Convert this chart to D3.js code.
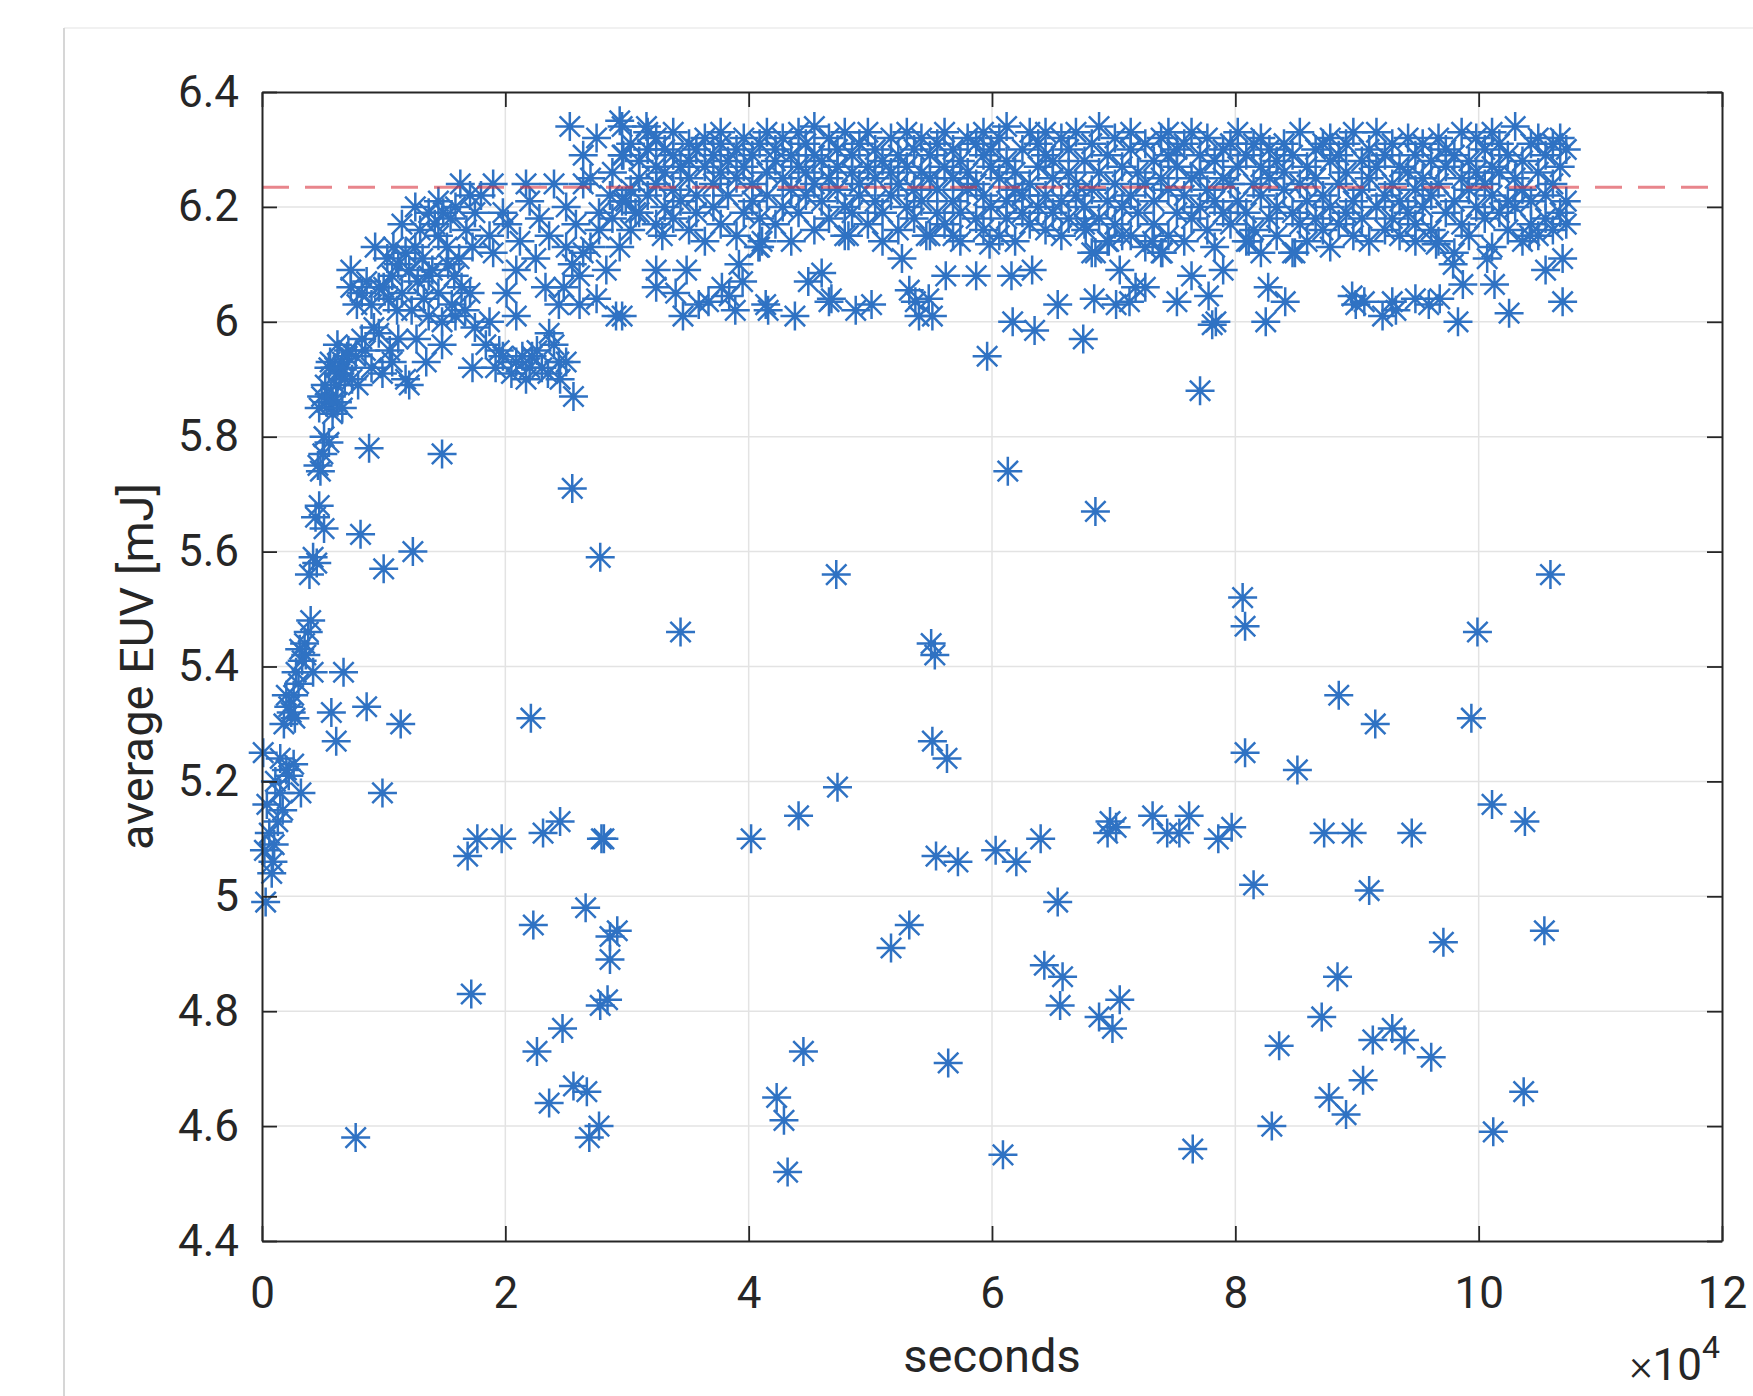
<!DOCTYPE html>
<html>
<head>
<meta charset="utf-8">
<title>average EUV</title>
<script src="https://cdn.jsdelivr.net/npm/d3@7"></script>
<style>
  body { margin: 0; background: #fff; }
</style>
</head>
<body>
<script>
// axis ticks (x in units of 1e4 s)
var xTicks = [0, 2, 4, 6, 8, 10, 12];
var xTickLabels = ["0", "2", "4", "6", "8", "10", "12"];
var yTicks = [4.4, 4.6, 4.8, 5, 5.2, 5.4, 5.6, 5.8, 6, 6.2, 6.4];
var yTickLabels = ["4.4", "4.6", "4.8", "5", "5.2", "5.4", "5.6", "5.8", "6", "6.2", "6.4"];
var refLevel = 6.234;

// start-up rise
var early = [[0.03,4.99],[0.08,5.04],[0.09,5.06],[0.02,5.08],[0.06,5.11],[0.13,5.13],[0.04,5.16],[0.15,5.18],
  [0.11,5.20],[0.20,5.22],[0.01,5.25],[0.15,5.24],[0.26,5.23],[0.32,5.18],[0.18,5.30],[0.22,5.33],[0.26,5.35],
  [0.20,5.35],[0.24,5.32],[0.28,5.39],[0.33,5.41],[0.35,5.44],[0.31,5.43],[0.38,5.46],[0.40,5.48],[0.42,5.39],
  [0.39,5.56],[0.42,5.59],[0.44,5.66],[0.47,5.68],[0.51,5.64],[0.48,5.74],[0.50,5.77],[0.51,5.80],[0.53,5.86],
  [0.57,5.87],[0.61,5.89],[0.56,5.93],[0.64,5.91],[0.70,5.94],[0.68,5.90],[0.10,5.09],[0.17,5.15],[0.22,5.21],
  [0.27,5.31],[0.30,5.37],[0.36,5.42],[0.45,5.58],[0.46,5.75],[0.55,5.79],[0.58,5.84],[0.62,5.86],[0.66,5.93],[0.60,5.92]];

// settling, 0.5 .. 3 (x1e4 s)
var ramp = [[1.63,6.24],[1.26,6.20],[1.37,6.19],[1.49,6.19],[1.59,6.20],[1.71,6.22],[1.42,6.17],[1.45,6.15],
  [0.93,6.13],[1.08,6.13],[1.26,6.13],[1.73,6.13],[1.12,6.10],[1.32,6.11],[1.53,6.10],[0.73,6.09],[0.73,6.06],
  [0.82,6.05],[0.96,6.06],[1.07,6.08],[1.21,6.09],[1.37,6.08],[1.64,6.06],[1.71,6.05],[1.56,6.03],[0.90,6.03],
  [1.04,6.04],[1.23,6.02],[1.37,6.01],[1.48,6.00],[1.59,6.01],[1.75,5.99],[1.48,5.96],[1.73,5.92],[0.96,5.98],
  [1.12,5.97],[0.82,5.97],[0.71,5.95],[0.55,5.92],[0.66,5.92],[0.77,5.94],[0.90,5.92],[1.07,5.93],[1.18,5.90],
  [1.21,5.89],[0.49,5.87],[0.58,5.86],[0.66,5.85],[0.47,5.85],[0.79,5.89],[0.99,5.91],
  [1.00,6.06],[1.03,6.11],[1.15,6.05],[1.18,6.12],[1.28,6.07],[1.33,6.04],[1.40,6.09],[1.45,6.05],[1.52,6.13],
  [1.58,6.08],[1.62,6.11],[1.67,6.02],[1.11,6.02],[0.86,6.07],[0.78,6.03],[0.92,5.99],[1.05,5.95],[1.27,5.97],
  [1.35,5.93],[0.62,5.96],[0.74,5.90],[0.52,5.89],[0.85,5.95],[1.15,6.17],[1.30,6.16],[1.45,6.21],[1.55,6.18],
  [1.68,6.16],[1.75,6.19],[1.80,6.22],
  [2.53,6.34],[2.94,6.35],[3.16,6.34],[2.64,6.29],[2.75,6.32],[2.97,6.29],[1.90,6.24],[2.17,6.24],[2.40,6.24],
  [2.64,6.24],[2.70,6.25],[1.98,6.19],[2.20,6.21],[2.50,6.20],[2.77,6.19],[2.99,6.21],[1.87,6.15],[2.12,6.14],
  [2.36,6.15],[2.50,6.13],[2.64,6.12],[2.77,6.16],[2.94,6.13],[3.07,6.19],[3.29,6.15],[1.90,6.12],[2.09,6.09],
  [2.33,6.06],[2.48,6.06],[2.61,6.08],[2.83,6.09],[2.01,6.05],[2.09,6.01],[2.44,6.03],[2.61,6.03],[2.75,6.04],
  [1.87,6.00],[1.84,5.96],[1.98,5.94],[2.09,5.93],[2.22,5.94],[2.30,5.92],[2.36,5.98],[2.44,5.93],[2.17,5.90],
  [1.92,5.92],[1.95,5.95],[2.05,5.91],[2.14,5.94],[2.26,5.95],[2.35,5.91],[2.40,5.96],[2.50,5.93],[2.45,5.90],
  [2.20,5.92],[2.02,6.17],[2.28,6.18],[2.58,6.17],[2.86,6.22],[2.25,6.11],[2.55,6.10],[2.70,6.13]];

// steady band: [x, [y values]]
var bandCols = [
  [2.88,[6.18,6.26]],[2.96,[6.21,6.29,6.34]],[3.03,[6.16,6.23,6.31]],[3.10,[6.19,6.25,6.28]],
  [3.17,[6.22,6.30,6.33]],[3.24,[6.17,6.24,6.27,6.32]],[3.31,[6.20,6.26,6.30]],[3.38,[6.18,6.23,6.29,6.33]],
  [3.44,[6.21,6.27]],[3.51,[6.16,6.25,6.31,6.28]],[3.57,[6.19,6.22,6.30]],[3.64,[6.14,6.27,6.32]],
  [3.71,[6.20,6.24,6.29]],[3.77,[6.17,6.26,6.33,6.31]],[3.83,[6.22,6.28]],[3.90,[6.15,6.25,6.30]],
  [3.96,[6.19,6.27,6.32]],[4.03,[6.21,6.24,6.29]],[4.09,[6.13,6.18,6.31]],[4.15,[6.22,6.26,6.33]],
  [4.22,[6.17,6.28,6.30]],[4.28,[6.20,6.25,6.32]],[4.35,[6.14,6.23,6.29]],[4.41,[6.19,6.27,6.33]],
  [4.47,[6.22,6.26,6.31]],[4.54,[6.16,6.24,6.29,6.34]],[4.60,[6.21,6.28]],[4.66,[6.18,6.25,6.32]],
  [4.73,[6.23,6.27,6.30]],[4.79,[6.15,6.20,6.33]],[4.85,[6.19,6.26,6.29]],[4.91,[6.22,6.24,6.31]],
  [4.98,[6.17,6.27,6.33]],[5.04,[6.21,6.25,6.30]],[5.10,[6.14,6.19,6.28]],[5.17,[6.22,6.26,6.32]],
  [5.23,[6.16,6.24,6.29]],[5.30,[6.20,6.27,6.33]],[5.36,[6.18,6.23,6.30]],[5.42,[6.21,6.26,6.32]],
  [5.49,[6.15,6.25,6.29]],[5.55,[6.19,6.23,6.31]],[5.61,[6.17,6.27,6.33]],[5.68,[6.21,6.25,6.30]],
  [5.74,[6.14,6.19,6.28]],[5.80,[6.23,6.26,6.32]],[5.87,[6.18,6.24,6.31]],[5.93,[6.16,6.22,6.29,6.33]],
  [5.99,[6.20,6.27,6.30]],[6.06,[6.15,6.25,6.32]],[6.12,[6.18,6.21,6.28,6.34]],[6.19,[6.14,6.23,6.26]],
  [6.25,[6.19,6.22,6.30]],[6.31,[6.17,6.24,6.33]],[6.38,[6.20,6.27,6.31]],[6.44,[6.16,6.22,6.29,6.33]],
  [6.50,[6.19,6.25,6.28]],[6.57,[6.15,6.21,6.32]],[6.63,[6.18,6.26,6.30]],[6.69,[6.22,6.24,6.33]],
  [6.76,[6.17,6.20,6.28]],[6.82,[6.12,6.23,6.31]],[6.88,[6.18,6.26,6.34]],[6.95,[6.14,6.21,6.29]],
  [7.01,[6.17,6.24,6.32]],[7.07,[6.20,6.27]],[7.14,[6.15,6.22,6.30,6.33]],[7.20,[6.19,6.26]],
  [7.26,[6.13,6.24,6.31]],[7.33,[6.17,6.21,6.28]],[7.39,[6.12,6.25,6.32]],[7.45,[6.15,6.23,6.29,6.33]],
  [7.52,[6.19,6.27,6.30]],[7.58,[6.14,6.22,6.31]],[7.64,[6.18,6.25,6.33]],[7.71,[6.20,6.26,6.29]],
  [7.77,[6.16,6.23,6.32]],[7.83,[6.13,6.21,6.28]],[7.90,[6.19,6.25,6.30]],[7.96,[6.17,6.24,6.31]],
  [8.02,[6.21,6.27,6.33]],[8.09,[6.14,6.19,6.29]],[8.15,[6.16,6.24,6.31]],[8.21,[6.12,6.22,6.27,6.32]],
  [8.28,[6.18,6.25,6.30]],[8.34,[6.15,6.20,6.28]],[8.40,[6.23,6.26,6.31]],[8.47,[6.12,6.19,6.29]],
  [8.53,[6.17,6.24,6.33]],[8.59,[6.14,6.21,6.27]],[8.66,[6.18,6.25,6.30]],[8.72,[6.16,6.22,6.31]],
  [8.78,[6.13,6.20,6.28,6.32]],[8.85,[6.17,6.24,6.29]],[8.91,[6.19,6.26,6.31]],[8.97,[6.15,6.21,6.33]],
  [9.04,[6.18,6.23,6.28]],[9.10,[6.14,6.25,6.30]],[9.16,[6.20,6.27,6.33]],[9.23,[6.16,6.22,6.29]],
  [9.29,[6.18,6.24,6.31]],[9.35,[6.15,6.21,6.27]],[9.42,[6.19,6.26,6.32]],[9.48,[6.17,6.23,6.29]],
  [9.54,[6.20,6.25,6.31]],[9.61,[6.16,6.22,6.28]],[9.67,[6.14,6.24,6.32]],[9.73,[6.19,6.27,6.30]],
  [9.80,[6.12,6.21,6.29]],[9.86,[6.17,6.25,6.33]],[9.92,[6.15,6.23,6.28]],[9.98,[6.20,6.26,6.32]],
  [10.05,[6.18,6.24,6.30]],[10.11,[6.13,6.22,6.27,6.33]],[10.17,[6.19,6.26,6.31]],[10.24,[6.16,6.21,6.29]],
  [10.30,[6.20,6.25,6.34]],[10.36,[6.14,6.23,6.28]],[10.43,[6.17,6.21,6.31]],[10.49,[6.15,6.26,6.32]],
  [10.55,[6.18,6.22,6.29]],[10.61,[6.16,6.24,6.31]],[10.67,[6.19,6.27,6.32]],[10.72,[6.17,6.21,6.30]]];

// sparse points just under the band
var lowBand = [[2.91,6.01],[2.96,6.01],[3.24,6.09],[3.49,6.09],[3.24,6.06],[3.40,6.05],[3.46,6.01],[3.59,6.03],
  [3.92,6.10],[3.95,6.07],[3.78,6.06],[3.67,6.035],[3.84,6.045],[3.89,6.02],[4.14,6.03],[4.16,6.02],[4.38,6.01],
  [4.49,6.07],[4.60,6.085],[4.66,6.035],[4.68,6.04],[4.88,6.02],[5.01,6.03],[5.26,6.11],[5.32,6.055],[5.37,6.035],
  [5.40,6.01],[4.11,6.14],[4.08,6.13],[4.82,6.15],
  [5.62,6.08],[5.87,6.08],[6.16,6.08],[6.33,6.09],[5.48,6.04],[5.51,6.01],[6.17,6.00],[6.35,5.985],[6.54,6.03],
  [6.75,5.97],[6.84,6.04],[7.02,6.03],[7.13,6.035],[7.18,6.06],[7.05,6.09],[6.85,6.12],[6.96,6.14],[5.98,6.135],
  [5.68,6.15],[5.46,6.15],[6.77,6.16],[7.07,6.15],
  [7.64,6.08],[7.90,6.09],[7.26,6.06],[7.52,6.035],[7.78,6.045],[7.84,6.00],[7.81,5.995],[8.27,6.06],[8.41,6.035],
  [8.25,6.00],[8.96,6.045],[8.99,6.03],[8.11,6.14],[8.49,6.12],[7.40,6.12],[7.32,6.14],
  [9.06,6.035],[9.21,6.01],[9.29,6.035],[9.32,6.02],[9.48,6.04],[9.59,6.03],[9.68,6.04],[9.83,6.00],[9.79,6.10],
  [9.87,6.065],[10.07,6.11],[10.13,6.065],[10.25,6.015],[9.48,6.14],[9.65,6.135],[10.55,6.09],[10.69,6.11],
  [10.69,6.035],[10.42,6.15]];

// drop-outs
var outliers = [[0.57,5.32],[0.61,5.27],[0.67,5.39],[0.81,5.63],[0.88,5.78],[0.86,5.33],[0.99,5.18],[1.00,5.57],
  [1.14,5.30],[1.24,5.60],[1.48,5.77],[0.77,4.58],[1.72,4.83],[1.69,5.07],[1.77,5.10],[1.97,5.10],[2.21,5.31],
  [2.23,4.95],[2.31,5.11],[2.45,5.13],[2.26,4.73],[2.36,4.64],[2.47,4.77],[2.56,4.67],[2.67,4.66],[2.66,4.98],
  [2.69,4.58],[2.77,4.60],[2.79,5.10],[2.81,5.10],[2.78,4.81],[2.84,4.82],[2.86,4.89],[2.86,4.93],[2.92,4.94],
  [2.55,5.71],[2.56,5.87],[2.78,5.59],[3.44,5.46],[4.02,5.10],[4.41,5.14],[4.45,4.73],[4.23,4.65],[4.29,4.61],
  [4.32,4.52],[4.73,5.19],[4.72,5.56],[5.17,4.91],[5.32,4.95],[5.50,5.44],[5.53,5.42],[5.51,5.27],[5.63,5.24],
  [5.54,5.07],[5.72,5.06],[5.64,4.71],[5.96,5.94],[6.03,5.08],[6.20,5.06],[6.09,4.55],[6.13,5.74],[6.40,5.10],
  [6.43,4.88],[6.54,4.99],[6.58,4.86],[6.56,4.81],[6.85,5.67],[6.88,4.79],[6.99,4.77],[7.05,4.82],[6.95,5.11],
  [6.97,5.13],[7.02,5.12],[7.32,5.14],[7.44,5.11],[7.54,5.11],[7.62,5.14],[7.65,4.56],[7.71,5.88],[7.86,5.10],
  [7.97,5.12],[8.06,5.52],[8.08,5.47],[8.08,5.25],[8.15,5.02],[8.30,4.60],[8.36,4.74],[8.51,5.22],[8.71,4.79],
  [8.73,5.11],[8.77,4.65],[8.84,4.86],[8.85,5.35],[8.91,4.62],[8.96,5.11],[9.05,4.68],[9.10,5.01],[9.13,4.75],
  [9.15,5.30],[9.29,4.77],[9.39,4.75],[9.45,5.11],[9.61,4.72],[9.71,4.92],[9.94,5.31],[9.99,5.46],[10.11,5.16],
  [10.12,4.59],[10.37,4.66],[10.38,5.13],[10.54,4.94],[10.59,5.56]];

var W = 1753, H = 1396;
var plotL = 262, plotR = 1722, plotT = 92, plotB = 1241;

var pts = early.concat(ramp);
bandCols.forEach(function(c) { c[1].forEach(function(v) { pts.push([c[0], v]); }); });
pts = pts.concat(lowBand, outliers);

var x = d3.scaleLinear().domain([0, 12]).range([plotL, plotR]);
var y = d3.scaleLinear().domain([4.4, 6.4]).range([plotB, plotT]);

var svg = d3.select("body").append("svg")
  .attr("width", W).attr("height", H)
  .style("font-family", "Roboto, 'Liberation Sans', sans-serif");

// figure panel edge
svg.append("line").attr("x1", 64).attr("x2", W).attr("y1", 28).attr("y2", 28)
  .attr("stroke", "#ececec").attr("stroke-width", 1.5);
svg.append("line").attr("x1", 64).attr("x2", 64).attr("y1", 28).attr("y2", H)
  .attr("stroke", "#d6d6d6").attr("stroke-width", 2);

// grid
var grid = svg.append("g").attr("stroke", "#e3e3e3").attr("stroke-width", 1.5);
grid.selectAll(".gx").data(xTicks.slice(1, -1)).enter().append("line")
  .attr("x1", d => x(d)).attr("x2", d => x(d)).attr("y1", plotT).attr("y2", plotB);
grid.selectAll(".gy").data(yTicks.slice(1, -1)).enter().append("line")
  .attr("x1", plotL).attr("x2", plotR).attr("y1", d => y(d)).attr("y2", d => y(d));

// markers (MATLAB-style '*')
var star = "M0,-14.5V14.5M-14.5,0H14.5M-10.2,-10.2L10.2,10.2M-10.2,10.2L10.2,-10.2";
svg.append("g").selectAll("path").data(pts).enter().append("path")
  .attr("d", star)
  .attr("transform", d => "translate(" + x(d[0]) + "," + y(d[1]) + ")")
  .attr("fill", "none").attr("stroke", "#2f72c3").attr("stroke-width", 2.5);

// reference level
svg.append("line")
  .attr("x1", plotL).attr("x2", plotR).attr("y1", y(refLevel)).attr("y2", y(refLevel))
  .attr("stroke", "#d9333f").attr("stroke-opacity", 0.6).attr("stroke-width", 3)
  .attr("stroke-dasharray", "27,16");

function styleAxis(g, fs) {
  g.attr("font-size", fs).attr("font-family", "Roboto, 'Liberation Sans', sans-serif").attr("color", "#262626");
  g.select(".domain").attr("stroke-width", 2);
  g.selectAll(".tick line").attr("stroke-width", 1.8);
}

svg.append("g").attr("transform", "translate(0," + plotB + ")")
  .call(d3.axisBottom(x).tickValues(xTicks).tickFormat((d, i) => xTickLabels[i])
    .tickSizeInner(-15).tickSizeOuter(0).tickPadding(36))
  .call(styleAxis, 44);
svg.append("g").attr("transform", "translate(" + plotL + ",0)")
  .call(d3.axisLeft(y).tickValues(yTicks).tickFormat((d, i) => yTickLabels[i])
    .tickSizeInner(-15).tickSizeOuter(0).tickPadding(23))
  .call(styleAxis, 44);
svg.append("g").attr("transform", "translate(0," + plotT + ")")
  .call(d3.axisTop(x).tickValues(xTicks).tickFormat("").tickSizeInner(-15).tickSizeOuter(0))
  .call(styleAxis, 44);
svg.append("g").attr("transform", "translate(" + plotR + ",0)")
  .call(d3.axisRight(y).tickValues(yTicks).tickFormat("").tickSizeInner(-15).tickSizeOuter(0))
  .call(styleAxis, 44);

// labels
svg.append("text").attr("x", (plotL + plotR) / 2).attr("y", 1372)
  .attr("text-anchor", "middle").attr("font-size", 47).attr("fill", "#262626")
  .text("seconds");
svg.append("text").attr("transform", "translate(153," + (plotT + plotB) / 2 + ") rotate(-90)")
  .attr("text-anchor", "middle").attr("font-size", 47).attr("fill", "#262626")
  .text("average EUV [mJ]");

var mult = svg.append("text").attr("x", plotR - 2).attr("y", 1380)
  .attr("text-anchor", "end").attr("font-size", 44).attr("fill", "#262626");
mult.append("tspan").attr("font-weight", 300).text("\u00d7");
mult.append("tspan").text("10");
mult.append("tspan").attr("dy", -22).attr("font-size", 32).text("4");
</script>
</body>
</html>
